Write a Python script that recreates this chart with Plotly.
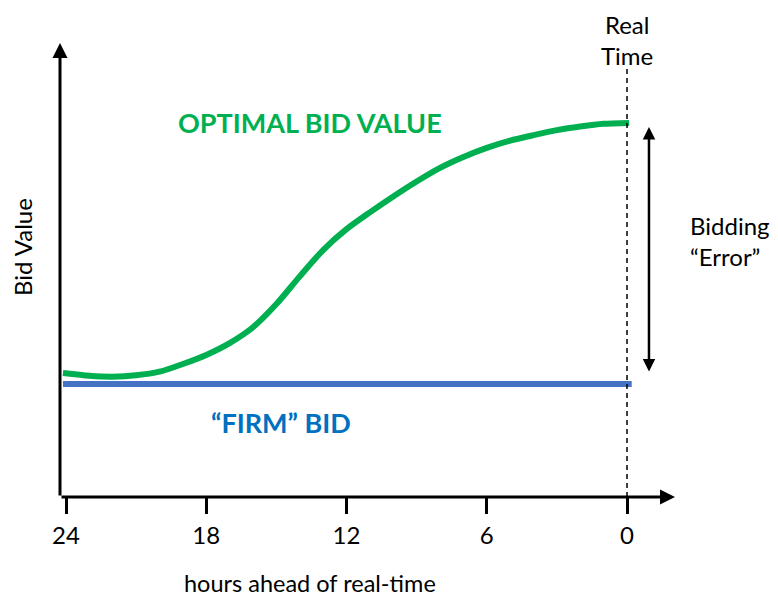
import plotly.graph_objects as go

# ---- data ----
optimal_hours = [24.13, 23, 22, 21, 20, 19, 18, 17, 16, 15, 14, 13, 12,
                 11, 10, 9, 8, 7, 6, 5, 4, 3, 2, 1, -0.09]
optimal_value = [2.73, 2.67, 2.65, 2.68, 2.76, 2.93, 3.13, 3.39, 3.74, 4.25, 4.86, 5.44, 5.90,
                 6.27, 6.62, 6.95, 7.25, 7.49, 7.69, 7.85, 7.97, 8.08, 8.16, 8.22, 8.24]
firm_hours = [24.13, -0.2]
firm_value = [2.49, 2.49]
tick_hours = [24, 18, 12, 6, 0]
tick_labels = ["24", "18", "12", "6", "0"]

FONT = "Lato"
GREEN = "#00B050"
BLUE_LINE = "#4472C4"
BLUE_TEXT = "#0070C0"

X_LEFT, X_RIGHT = 24.257, -2.053
Y_BOTTOM, Y_TOP = 0, 10

fig = go.Figure()
fig.add_trace(go.Scatter(x=firm_hours, y=firm_value, mode="lines",
                         line=dict(color=BLUE_LINE, width=6), hoverinfo="skip"))
fig.add_trace(go.Scatter(x=optimal_hours, y=optimal_value, mode="lines",
                         line=dict(color=GREEN, width=6, shape="spline", smoothing=0.7),
                         hoverinfo="skip"))

# real-time dashed line
fig.add_shape(type="line", x0=0, x1=0, y0=0, y1=9.47, xref="x", yref="y",
              line=dict(color="black", width=1.5, dash="5px,4px"))

ann = []
# axis arrows
ann.append(dict(x=X_RIGHT, y=0, ax=X_LEFT, ay=0, xref="x", yref="y", axref="x", ayref="y",
                text="", showarrow=True, arrowhead=2, arrowsize=1, arrowwidth=3,
                arrowcolor="black", standoff=0))
ann.append(dict(x=X_LEFT, y=Y_TOP, ax=X_LEFT, ay=0, xref="x", yref="y", axref="x", ayref="y",
                text="", showarrow=True, arrowhead=2, arrowsize=1, arrowwidth=3,
                arrowcolor="black", standoff=0))
# bidding error double arrow
ann.append(dict(x=-0.94, y=8.15, ax=-0.94, ay=2.73, xref="x", yref="y", axref="x", ayref="y",
                text="", showarrow=True, arrowhead=2, startarrowhead=2, arrowside="end+start",
                arrowsize=1, startarrowsize=1, arrowwidth=2.5, arrowcolor="black",
                standoff=0, startstandoff=0))
# texts
ann.append(dict(x=0.922, y=1.0066, xref="paper", yref="paper", text="Real<br>Time",
                showarrow=False, font=dict(family=FONT, size=24, color="black"),
                align="center", xanchor="center", yanchor="middle"))
ann.append(dict(x=13.56, y=8.26, xref="x", yref="y", text="<b>OPTIMAL BID VALUE</b>",
                showarrow=False, font=dict(family=FONT, size=27, color=GREEN),
                xanchor="center", yanchor="middle"))
ann.append(dict(x=14.80, y=1.65, xref="x", yref="y", text="<b>\u201cFIRM\u201d BID</b>",
                showarrow=False, font=dict(family=FONT, size=27, color=BLUE_TEXT),
                xanchor="center", yanchor="middle"))
ann.append(dict(x=1.0211, y=0.5639, xref="paper", yref="paper", text="Bidding<br>\u201cError\u201d",
                showarrow=False, font=dict(family=FONT, size=24, color="black"),
                align="left", xanchor="left", yanchor="middle"))
ann.append(dict(x=0.4065, y=-0.1894, xref="paper", yref="paper", text="hours ahead of real-time",
                showarrow=False, font=dict(family=FONT, size=23.5, color="black"),
                xanchor="center", yanchor="middle"))
ann.append(dict(x=-0.0602, y=0.5507, xref="paper", yref="paper", text="Bid Value", textangle=-90,
                showarrow=False, font=dict(family=FONT, size=24, color="black"),
                xanchor="center", yanchor="middle"))

fig.update_layout(
    width=770, height=590,
    margin=dict(l=52, r=103, t=35, b=101),
    paper_bgcolor="white", plot_bgcolor="white",
    showlegend=False,
    annotations=ann,
    xaxis=dict(range=[X_LEFT, X_RIGHT], tickvals=tick_hours, ticktext=tick_labels,
               ticks="outside", ticklen=16, tickwidth=3, tickcolor="black",
               showgrid=False, zeroline=False, showline=False,
               tickfont=dict(family=FONT, size=24, color="black"),
               ticklabelstandoff=1, fixedrange=True),
    yaxis=dict(range=[Y_BOTTOM, Y_TOP], showticklabels=False, ticks="",
               showgrid=False, zeroline=False, showline=False, fixedrange=True),
)

fig.write_html("out.html")
